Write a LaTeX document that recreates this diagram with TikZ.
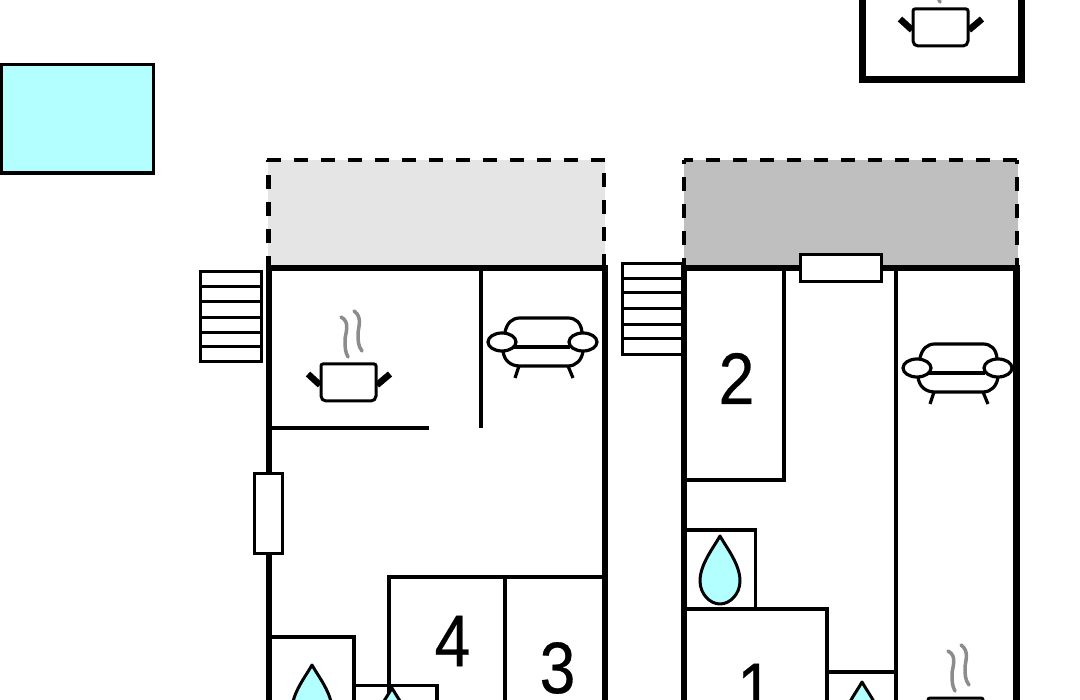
\documentclass[tikz,border=0pt]{standalone}
\usepackage{fontspec}
\setmainfont{Liberation Sans}
\newfontfamily\numfont[FakeBold=0.4]{Liberation Sans}
\definecolor{water}{HTML}{B3FFFF}
\definecolor{terraceA}{HTML}{E5E5E5}
\definecolor{terraceB}{HTML}{BFBFBF}
\definecolor{steam}{HTML}{8C8C8C}
\tikzset{
  wall/.style={line width=6.3pt,line cap=butt},
  inner/.style={line width=3.3pt},
  thin/.style={line width=3pt},
  dashline/.style={line width=4.3pt,dash pattern=on 13.5pt off 13.5pt},
  num/.style={font=\numfont\fontsize{73}{73}\selectfont,inner sep=0pt,xscale=0.88},
  pot/.pic={
    \draw[line width=6.5pt] (-1,21) -- (-13,10);
    \draw[line width=6.5pt] (56,21) -- (69,10);
    \draw[line width=3pt,fill=white,rounded corners=2pt] (0,0) -- (55,0) -- (55,34) -- (52,37) -- (3,37) -- (0,34) -- cycle;
    \draw[steam,line width=3.5pt,line cap=round] (20,-47) .. controls (30,-42) and (24,-30) .. (24,-24) .. controls (24,-18) and (24,-12) .. (27,-7);
    \draw[steam,line width=3.5pt,line cap=round] (33,-53) .. controls (42,-47) and (37,-36) .. (37,-30) .. controls (37,-24) and (37,-18) .. (41,-13);
  },
  sofa/.pic={
    \draw[line width=3.2pt] (-37,-10) .. controls (-35,-19) and (-30,-24) .. (-22,-24) -- (26,-24) .. controls (34,-24) and (39,-19) .. (40,-10);
    \draw[line width=3.2pt] (-28,5) -- (28,5);
    \draw[line width=3.2pt] (-39,9) .. controls (-38,18) and (-32,24) .. (-22,24) -- (26,24) .. controls (34,24) and (40,18) .. (41,9);
    \draw[line width=3.2pt] (-23,24) -- (-27,36);
    \draw[line width=3.2pt] (26,24) -- (31,36);
    \draw[line width=3.2pt,fill=white] (-40,0) ellipse [x radius=14,y radius=9];
    \draw[line width=3.2pt,fill=white] (41,0) ellipse [x radius=14,y radius=9];
  },
  droplet/.pic={
    \draw[line width=3pt,fill=water,line join=round] (0,0) .. controls (-6,11) and (-20,28) .. (-20,45) .. controls (-20,58) and (-10,68) .. (0,68) .. controls (10,68) and (20,58) .. (20,45) .. controls (20,28) and (6,11) .. (0,0) -- cycle;
  },
}
\begin{document}
\begin{tikzpicture}[x=1pt,y=-1pt]
\useasboundingbox (0,0) rectangle (1080,700);
\clip (0,0) rectangle (1080,700);
\fill[white] (0,0) rectangle (1080,700);

% pool
\draw[line width=3.2pt,fill=water] (1.5,64.5) rectangle (153.5,173);

% top right annex
\draw[line width=6.5pt] (862.5,-5) -- (862.5,79.5) -- (1021.5,79.5) -- (1021.5,-5);
\pic at (913,9) {pot};

% left plan: terrace
\fill[terraceA] (268,160) rectangle (605,266);
\draw[dashline] (267,160) -- (606,160);
\draw[dashline] (268.5,270) -- (268.5,160);
\draw[dashline] (604,268) -- (604,160);

% right plan: terrace
\fill[terraceB] (684,160) rectangle (1018,266);
\draw[dashline,dash phase=5pt] (684,160) -- (1018,160);
\draw[dashline] (684,272) -- (684,160);
\draw[dashline] (1017,272) -- (1017,160);

% left stairs
\draw[thin] (200.5,272) rectangle (261,362);
\foreach \yy in {287,302,318,333,347} \draw[thin] (200.5,\yy) -- (261,\yy);
% right stairs
\draw[thin] (622,264) rectangle (684,355);
\foreach \yy in {279,293,309,325,339} \draw[thin] (622,\yy) -- (684,\yy);

% left plan: inner walls
\draw[inner] (481,268) -- (481,428);
\draw[inner] (268,428) -- (429,428);
\draw[inner] (389,700) -- (389,577) -- (605,577);
\draw[inner] (505,577) -- (505,700);
\draw[inner] (268,637) -- (354,637) -- (354,700);
\draw[inner] (354,685.5) -- (437,685.5) -- (437,700);

% left plan: outer walls
\draw[wall] (268.7,700) -- (268.7,268) -- (605,268) -- (605,700);
\draw[thin,fill=white] (254.5,473.5) rectangle (282,554);

% right plan: inner walls
\draw[inner] (784,268) -- (784,480) -- (684,480);
\draw[inner] (896,268) -- (896,700);
\draw[inner] (684,530) -- (755.5,530) -- (755.5,609);
\draw[inner] (684,609) -- (827,609) -- (827,700);
\draw[inner] (827,672) -- (896,672);

% right plan: outer walls
\draw[wall] (684,700) -- (684,268) -- (1016.5,268) -- (1016.5,700);
\draw[thin,fill=white] (800,254.5) rectangle (881,282);

% fixtures
\pic at (321,364) {pot};
\pic at (928,698) {pot};
\pic at (542,342) {sofa};
\pic at (957,368) {sofa};
\pic at (312,665) {droplet};
\pic at (392,688) {droplet};
\pic at (720,536) {droplet};
\pic at (862,682) {droplet};

% room numbers
\node[num] (room4) at (452.5,641) {4};
\node[num] (room3) at (557.5,668) {3};
\node[num] (room2) at (736.5,378.5) {2};
\node[num] (room1) at (755,689) {1};
\end{tikzpicture}
\end{document}
